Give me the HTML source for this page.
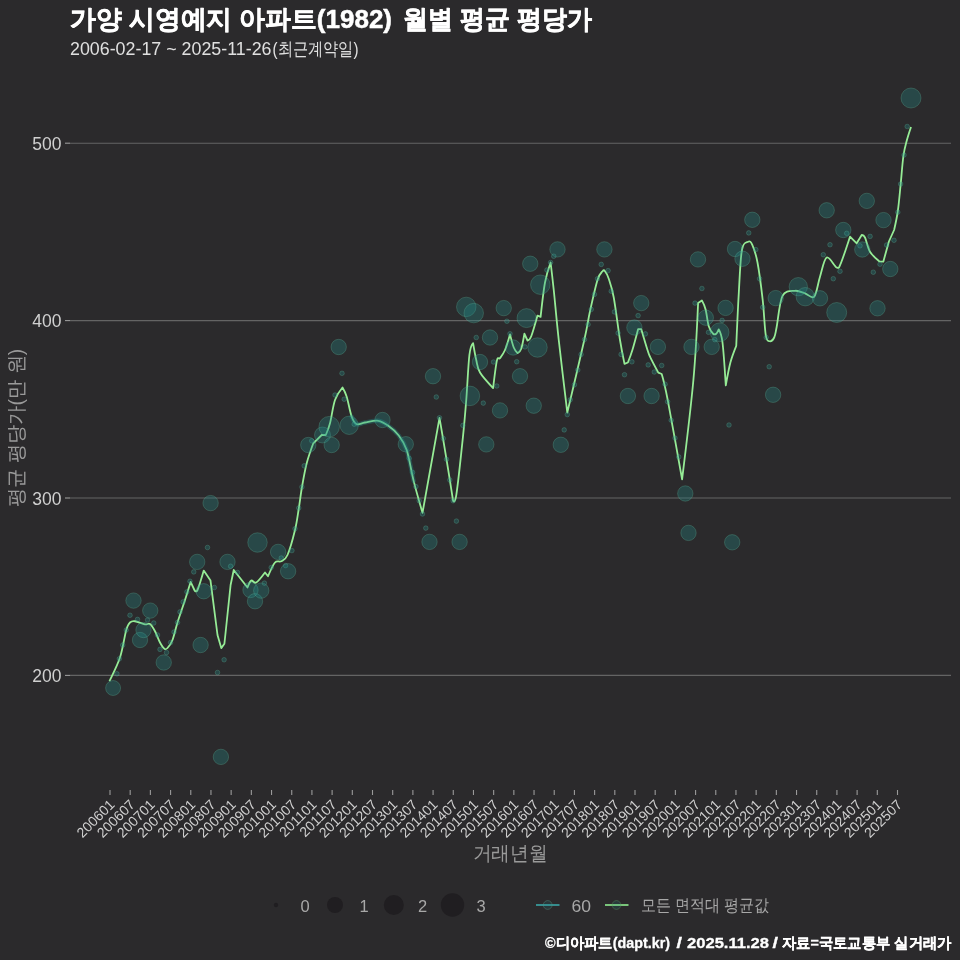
<!DOCTYPE html>
<html><head><meta charset="utf-8">
<style>
html,body{margin:0;padding:0;background:#2b2a2c;width:960px;height:960px;overflow:hidden}
svg{position:absolute;left:0;top:0;will-change:transform}
text{font-family:"Liberation Sans",sans-serif}
.ax{font-size:17.5px;fill:#d0d0d0}
.xt{font-size:14px;fill:#d0d0d0}
.ttl{font-size:26.2px;font-weight:bold;fill:#ffffff;stroke:#ffffff;stroke-width:0.5px}
.sub{font-size:18px;fill:#e0e0e0}
.axt{font-size:20px;fill:#9a9a9a}
.leg{font-size:16.5px;fill:#a8a8a8}
.ft{font-size:15px;font-weight:bold;fill:#ffffff;stroke:#ffffff;stroke-width:0.3px}
</style></head><body>
<svg width="960" height="960" viewBox="0 0 960 960">
<text x="70" y="27.8" class="ttl" textLength="322" lengthAdjust="spacingAndGlyphs">가양 시영예지 아파트(1982)</text><text x="403" y="27.8" class="ttl" textLength="189" lengthAdjust="spacingAndGlyphs">월별 평균 평당가</text>
<text x="70" y="54.5" class="sub" textLength="201.5" lengthAdjust="spacingAndGlyphs">2006-02-17 ~ 2025-11-26</text><text x="272.5" y="54.5" class="sub" textLength="86" lengthAdjust="spacingAndGlyphs">(최근계약일)</text>
<line x1="70" y1="143.2" x2="951" y2="143.2" stroke="#646464" stroke-width="1.1"/>
<line x1="65" y1="143.2" x2="70" y2="143.2" stroke="#9a9a9a" stroke-width="1.1"/>
<text x="61.5" y="149.79999999999998" text-anchor="end" class="ax">500</text>
<line x1="70" y1="320.6" x2="951" y2="320.6" stroke="#646464" stroke-width="1.1"/>
<line x1="65" y1="320.6" x2="70" y2="320.6" stroke="#9a9a9a" stroke-width="1.1"/>
<text x="61.5" y="327.20000000000005" text-anchor="end" class="ax">400</text>
<line x1="70" y1="498" x2="951" y2="498" stroke="#646464" stroke-width="1.1"/>
<line x1="65" y1="498" x2="70" y2="498" stroke="#9a9a9a" stroke-width="1.1"/>
<text x="61.5" y="504.6" text-anchor="end" class="ax">300</text>
<line x1="70" y1="675.4" x2="951" y2="675.4" stroke="#646464" stroke-width="1.1"/>
<line x1="65" y1="675.4" x2="70" y2="675.4" stroke="#9a9a9a" stroke-width="1.1"/>
<text x="61.5" y="682.0" text-anchor="end" class="ax">200</text>
<line x1="110.00" y1="790" x2="110.00" y2="795" stroke="#9a9a9a" stroke-width="1.1"/>
<text transform="translate(115.50,805.5) rotate(-45)" text-anchor="end" class="xt">200601</text>
<line x1="130.19" y1="790" x2="130.19" y2="795" stroke="#9a9a9a" stroke-width="1.1"/>
<text transform="translate(135.69,805.5) rotate(-45)" text-anchor="end" class="xt">200607</text>
<line x1="150.38" y1="790" x2="150.38" y2="795" stroke="#9a9a9a" stroke-width="1.1"/>
<text transform="translate(155.88,805.5) rotate(-45)" text-anchor="end" class="xt">200701</text>
<line x1="170.58" y1="790" x2="170.58" y2="795" stroke="#9a9a9a" stroke-width="1.1"/>
<text transform="translate(176.08,805.5) rotate(-45)" text-anchor="end" class="xt">200707</text>
<line x1="190.77" y1="790" x2="190.77" y2="795" stroke="#9a9a9a" stroke-width="1.1"/>
<text transform="translate(196.27,805.5) rotate(-45)" text-anchor="end" class="xt">200801</text>
<line x1="210.96" y1="790" x2="210.96" y2="795" stroke="#9a9a9a" stroke-width="1.1"/>
<text transform="translate(216.46,805.5) rotate(-45)" text-anchor="end" class="xt">200807</text>
<line x1="231.15" y1="790" x2="231.15" y2="795" stroke="#9a9a9a" stroke-width="1.1"/>
<text transform="translate(236.65,805.5) rotate(-45)" text-anchor="end" class="xt">200901</text>
<line x1="251.35" y1="790" x2="251.35" y2="795" stroke="#9a9a9a" stroke-width="1.1"/>
<text transform="translate(256.85,805.5) rotate(-45)" text-anchor="end" class="xt">200907</text>
<line x1="271.54" y1="790" x2="271.54" y2="795" stroke="#9a9a9a" stroke-width="1.1"/>
<text transform="translate(277.04,805.5) rotate(-45)" text-anchor="end" class="xt">201001</text>
<line x1="291.73" y1="790" x2="291.73" y2="795" stroke="#9a9a9a" stroke-width="1.1"/>
<text transform="translate(297.23,805.5) rotate(-45)" text-anchor="end" class="xt">201007</text>
<line x1="311.92" y1="790" x2="311.92" y2="795" stroke="#9a9a9a" stroke-width="1.1"/>
<text transform="translate(317.42,805.5) rotate(-45)" text-anchor="end" class="xt">201101</text>
<line x1="332.12" y1="790" x2="332.12" y2="795" stroke="#9a9a9a" stroke-width="1.1"/>
<text transform="translate(337.62,805.5) rotate(-45)" text-anchor="end" class="xt">201107</text>
<line x1="352.31" y1="790" x2="352.31" y2="795" stroke="#9a9a9a" stroke-width="1.1"/>
<text transform="translate(357.81,805.5) rotate(-45)" text-anchor="end" class="xt">201201</text>
<line x1="372.50" y1="790" x2="372.50" y2="795" stroke="#9a9a9a" stroke-width="1.1"/>
<text transform="translate(378.00,805.5) rotate(-45)" text-anchor="end" class="xt">201207</text>
<line x1="392.69" y1="790" x2="392.69" y2="795" stroke="#9a9a9a" stroke-width="1.1"/>
<text transform="translate(398.19,805.5) rotate(-45)" text-anchor="end" class="xt">201301</text>
<line x1="412.88" y1="790" x2="412.88" y2="795" stroke="#9a9a9a" stroke-width="1.1"/>
<text transform="translate(418.38,805.5) rotate(-45)" text-anchor="end" class="xt">201307</text>
<line x1="433.08" y1="790" x2="433.08" y2="795" stroke="#9a9a9a" stroke-width="1.1"/>
<text transform="translate(438.58,805.5) rotate(-45)" text-anchor="end" class="xt">201401</text>
<line x1="453.27" y1="790" x2="453.27" y2="795" stroke="#9a9a9a" stroke-width="1.1"/>
<text transform="translate(458.77,805.5) rotate(-45)" text-anchor="end" class="xt">201407</text>
<line x1="473.46" y1="790" x2="473.46" y2="795" stroke="#9a9a9a" stroke-width="1.1"/>
<text transform="translate(478.96,805.5) rotate(-45)" text-anchor="end" class="xt">201501</text>
<line x1="493.65" y1="790" x2="493.65" y2="795" stroke="#9a9a9a" stroke-width="1.1"/>
<text transform="translate(499.15,805.5) rotate(-45)" text-anchor="end" class="xt">201507</text>
<line x1="513.85" y1="790" x2="513.85" y2="795" stroke="#9a9a9a" stroke-width="1.1"/>
<text transform="translate(519.35,805.5) rotate(-45)" text-anchor="end" class="xt">201601</text>
<line x1="534.04" y1="790" x2="534.04" y2="795" stroke="#9a9a9a" stroke-width="1.1"/>
<text transform="translate(539.54,805.5) rotate(-45)" text-anchor="end" class="xt">201607</text>
<line x1="554.23" y1="790" x2="554.23" y2="795" stroke="#9a9a9a" stroke-width="1.1"/>
<text transform="translate(559.73,805.5) rotate(-45)" text-anchor="end" class="xt">201701</text>
<line x1="574.42" y1="790" x2="574.42" y2="795" stroke="#9a9a9a" stroke-width="1.1"/>
<text transform="translate(579.92,805.5) rotate(-45)" text-anchor="end" class="xt">201707</text>
<line x1="594.62" y1="790" x2="594.62" y2="795" stroke="#9a9a9a" stroke-width="1.1"/>
<text transform="translate(600.12,805.5) rotate(-45)" text-anchor="end" class="xt">201801</text>
<line x1="614.81" y1="790" x2="614.81" y2="795" stroke="#9a9a9a" stroke-width="1.1"/>
<text transform="translate(620.31,805.5) rotate(-45)" text-anchor="end" class="xt">201807</text>
<line x1="635.00" y1="790" x2="635.00" y2="795" stroke="#9a9a9a" stroke-width="1.1"/>
<text transform="translate(640.50,805.5) rotate(-45)" text-anchor="end" class="xt">201901</text>
<line x1="655.19" y1="790" x2="655.19" y2="795" stroke="#9a9a9a" stroke-width="1.1"/>
<text transform="translate(660.69,805.5) rotate(-45)" text-anchor="end" class="xt">201907</text>
<line x1="675.38" y1="790" x2="675.38" y2="795" stroke="#9a9a9a" stroke-width="1.1"/>
<text transform="translate(680.88,805.5) rotate(-45)" text-anchor="end" class="xt">202001</text>
<line x1="695.58" y1="790" x2="695.58" y2="795" stroke="#9a9a9a" stroke-width="1.1"/>
<text transform="translate(701.08,805.5) rotate(-45)" text-anchor="end" class="xt">202007</text>
<line x1="715.77" y1="790" x2="715.77" y2="795" stroke="#9a9a9a" stroke-width="1.1"/>
<text transform="translate(721.27,805.5) rotate(-45)" text-anchor="end" class="xt">202101</text>
<line x1="735.96" y1="790" x2="735.96" y2="795" stroke="#9a9a9a" stroke-width="1.1"/>
<text transform="translate(741.46,805.5) rotate(-45)" text-anchor="end" class="xt">202107</text>
<line x1="756.15" y1="790" x2="756.15" y2="795" stroke="#9a9a9a" stroke-width="1.1"/>
<text transform="translate(761.65,805.5) rotate(-45)" text-anchor="end" class="xt">202201</text>
<line x1="776.35" y1="790" x2="776.35" y2="795" stroke="#9a9a9a" stroke-width="1.1"/>
<text transform="translate(781.85,805.5) rotate(-45)" text-anchor="end" class="xt">202207</text>
<line x1="796.54" y1="790" x2="796.54" y2="795" stroke="#9a9a9a" stroke-width="1.1"/>
<text transform="translate(802.04,805.5) rotate(-45)" text-anchor="end" class="xt">202301</text>
<line x1="816.73" y1="790" x2="816.73" y2="795" stroke="#9a9a9a" stroke-width="1.1"/>
<text transform="translate(822.23,805.5) rotate(-45)" text-anchor="end" class="xt">202307</text>
<line x1="836.92" y1="790" x2="836.92" y2="795" stroke="#9a9a9a" stroke-width="1.1"/>
<text transform="translate(842.42,805.5) rotate(-45)" text-anchor="end" class="xt">202401</text>
<line x1="857.12" y1="790" x2="857.12" y2="795" stroke="#9a9a9a" stroke-width="1.1"/>
<text transform="translate(862.62,805.5) rotate(-45)" text-anchor="end" class="xt">202407</text>
<line x1="877.31" y1="790" x2="877.31" y2="795" stroke="#9a9a9a" stroke-width="1.1"/>
<text transform="translate(882.81,805.5) rotate(-45)" text-anchor="end" class="xt">202501</text>
<line x1="897.50" y1="790" x2="897.50" y2="795" stroke="#9a9a9a" stroke-width="1.1"/>
<text transform="translate(903.00,805.5) rotate(-45)" text-anchor="end" class="xt">202507</text>
<path d="M109.4,681.25 C111.17,677.29 117.19,666.04 120,657.5 C122.81,648.96 124.58,635.83 126.25,630 C127.92,624.17 128.54,623.96 130,622.5 C131.46,621.04 132.50,620.93 135,621.25 C137.50,621.57 142.50,623.94 145,624.4 C147.50,624.86 148.33,622.86 150,624 C151.67,625.14 153.33,628.17 155,631.25 C156.67,634.33 158.43,639.58 160,642.5 C161.57,645.42 163.15,647.83 164.4,648.75 C165.65,649.67 166.15,649.46 167.5,648 C168.85,646.54 170.83,644.25 172.5,640 C174.17,635.75 175.42,629.17 177.5,622.5 C179.58,615.83 182.82,606.77 185,600 C187.18,593.23 190.60,581.90 190.6,581.9 C190.60,581.90 194.40,590.00 194.4,590 C194.40,590.00 195.94,593.23 197.5,590 C199.06,586.77 203.75,570.60 203.75,570.6 C203.75,570.60 210.50,580.60 210.5,580.6 C210.50,580.60 217.50,635.00 217.5,635 C217.50,635.00 221.25,648.10 221.25,648.1 C221.25,648.10 224.40,643.75 224.4,643.75 C224.40,643.75 230.60,585.00 230.6,585 C230.60,585.00 233.75,570.00 233.75,570 C233.75,570.00 247.50,587.50 247.5,587.5 C247.50,587.50 249.79,581.43 251.25,580.6 C252.71,579.77 253.96,583.85 256.25,582.5 C258.54,581.15 265.00,572.50 265,572.5 C265.00,572.50 268.00,576.25 268,576.25 C268.00,576.25 272.79,565.00 275,562.5 C277.21,560.00 279.17,562.50 281.25,561.25 C283.33,560.00 285.21,560.21 287.5,555 C289.79,549.79 293.12,537.71 295,530 C296.88,522.29 297.60,515.83 298.75,508.75 C299.90,501.67 300.57,495.07 301.9,487.5 C303.22,479.93 304.80,470.67 306.7,463.3 C308.60,455.93 313.30,443.30 313.3,443.3 C313.30,443.30 321.70,435.00 321.7,435 C321.70,435.00 325.80,435.00 325.8,435 C325.80,435.00 328.47,429.13 330,423.3 C331.53,417.47 332.92,405.97 335,400 C337.08,394.03 342.50,387.50 342.5,387.5 C342.50,387.50 345.17,391.83 346.7,396.7 C348.23,401.57 350.03,412.12 351.7,416.7 C353.37,421.28 354.48,423.23 356.7,424.2 C358.92,425.17 361.40,423.07 365,422.5 C368.60,421.93 374.42,420.25 378.3,420.8 C382.18,421.35 384.97,423.43 388.3,425.8 C391.63,428.17 395.23,430.97 398.3,435 C401.37,439.03 404.13,442.32 406.7,450 C409.27,457.68 411.07,470.63 413.7,481.1 C416.33,491.57 422.50,512.80 422.5,512.8 C422.50,512.80 439.50,417.80 439.5,417.8 C439.50,417.80 444.23,445.47 446.5,459.3 C448.77,473.13 453.10,500.80 453.1,500.8 C453.10,500.80 454.77,504.87 456.4,494.3 C458.03,483.73 461.26,453.12 462.9,437.4 C464.54,421.68 465.17,413.73 466.25,400 C467.33,386.27 468.26,364.48 469.4,355 C470.54,345.52 473.10,343.10 473.1,343.1 C473.10,343.10 475.10,355.10 476.25,360 C477.40,364.90 477.19,367.82 480,372.5 C482.81,377.18 493.10,388.10 493.1,388.1 C493.10,388.10 495.75,365.60 496.9,360.6 C498.05,355.60 498.65,359.87 500,358.1 C501.35,356.33 503.33,353.95 505,350 C506.67,346.05 510.00,334.40 510,334.4 C510.00,334.40 512.50,344.38 513.75,347.5 C515.00,350.62 517.50,353.10 517.5,353.1 C517.50,353.10 520.10,351.98 521.25,348.75 C522.40,345.52 524.40,333.75 524.4,333.75 C524.40,333.75 527.50,340.50 527.5,340.5 C527.50,340.50 529.58,340.40 531.25,336.25 C532.92,332.10 537.50,315.60 537.5,315.6 C537.50,315.60 540.60,316.90 540.6,316.9 C540.60,316.90 543.33,291.57 545,282.5 C546.67,273.43 550.60,262.50 550.6,262.5 C550.60,262.50 552.39,277.08 553.75,290 C555.11,302.92 556.49,319.57 558.75,340 C561.01,360.43 567.30,412.60 567.3,412.6 C567.30,412.60 580.52,356.89 584.3,340 C588.08,323.11 587.80,321.25 590,311.25 C592.20,301.25 595.42,286.67 597.5,280 C599.58,273.33 601.25,272.71 602.5,271.25 C603.75,269.79 603.96,270.00 605,271.25 C606.04,272.50 607.29,274.38 608.75,278.75 C610.21,283.12 611.88,287.29 613.75,297.5 C615.62,307.71 618.21,328.93 620,340 C621.79,351.07 624.50,363.90 624.5,363.9 C624.50,363.90 627.90,362.50 627.9,362.5 C627.90,362.50 630.70,355.55 632.4,350 C634.10,344.45 638.10,329.20 638.1,329.2 C638.10,329.20 641.25,329.20 641.25,329.2 C641.25,329.20 646.01,345.35 647.5,350 C648.99,354.65 648.40,353.32 650.2,357.1 C652.00,360.88 658.30,372.70 658.3,372.7 C658.30,372.70 661.70,374.00 661.7,374 C661.70,374.00 664.40,382.83 667.8,400.4 C671.20,417.97 682.10,479.40 682.1,479.4 C682.10,479.40 690.73,409.40 693.4,380 C696.07,350.60 698.10,303.00 698.1,303 C698.10,303.00 701.90,300.40 701.9,300.4 C701.90,300.40 704.46,305.09 705.6,309.4 C706.74,313.71 707.50,322.19 708.75,326.25 C710.00,330.31 711.85,332.50 713.1,333.75 C714.35,335.00 715.31,334.48 716.25,333.75 C717.19,333.02 718.75,329.40 718.75,329.4 C718.75,329.40 721.33,333.17 722.5,342.5 C723.67,351.83 725.80,385.40 725.8,385.4 C725.80,385.40 728.66,369.10 730.4,362.5 C732.14,355.90 736.25,345.80 736.25,345.8 C736.25,345.80 737.81,309.72 738.75,293.75 C739.69,277.78 740.34,258.68 741.9,250 C743.46,241.32 746.37,242.57 748.1,241.7 C749.83,240.83 750.73,241.33 752.3,244.8 C753.87,248.27 755.77,253.30 757.5,262.5 C759.23,271.70 761.32,287.85 762.7,300 C764.08,312.15 764.65,328.52 765.8,335.4 C766.95,342.27 768.20,340.90 769.6,341.25 C771.00,341.60 773.02,339.93 774.2,337.5 C775.38,335.07 775.32,333.65 776.7,326.7 C778.08,319.75 779.45,301.78 782.5,295.8 C785.55,289.82 791.25,291.22 795,290.8 C798.75,290.38 801.80,292.32 805,293.3 C808.20,294.28 811.70,299.47 814.2,296.7 C816.70,293.93 817.92,283.23 820,276.7 C822.08,270.17 823.92,259.03 826.7,257.5 C829.48,255.97 834.35,266.53 836.7,267.5 C839.05,268.47 838.58,268.43 840.8,263.3 C843.02,258.17 850.00,236.70 850,236.7 C850.00,236.70 856.70,243.30 856.7,243.3 C856.70,243.30 861.70,235.00 861.7,235 C861.70,235.00 863.62,234.72 865,237.5 C866.38,240.28 867.63,247.73 870,251.7 C872.37,255.67 879.20,261.30 879.2,261.3 C879.20,261.30 883.30,261.70 883.3,261.7 C883.30,261.70 888.90,241.50 888.9,241.5 C888.90,241.50 894.10,230.00 894.1,230 C894.10,230.00 896.72,218.75 897.8,211.25 C898.88,203.75 899.67,194.21 900.6,185 C901.53,175.79 902.37,163.42 903.4,156 C904.43,148.58 905.53,145.35 906.8,140.5 C908.07,135.65 910.30,129.17 911,126.9" fill="none" stroke="#96ec96" stroke-width="1.8" stroke-linejoin="round" stroke-linecap="butt"/>
<g fill="rgba(33,144,140,0.3)" stroke="rgba(100,190,160,0.3)" stroke-width="0.9"><circle cx="113.1" cy="688" r="7.5"/><circle cx="116.9" cy="673.75" r="2.3"/><circle cx="119.4" cy="658.75" r="2.3"/><circle cx="122.75" cy="645" r="2.3"/><circle cx="126.25" cy="630" r="2.3"/><circle cx="130" cy="615.25" r="2.3"/><circle cx="133.5" cy="600.6" r="7.7"/><circle cx="137.5" cy="619.4" r="2.3"/><circle cx="140" cy="640" r="7.7"/><circle cx="143.5" cy="630" r="7.7"/><circle cx="147.5" cy="620" r="2.3"/><circle cx="150.25" cy="610.6" r="7.7"/><circle cx="153.75" cy="623" r="2.3"/><circle cx="157.5" cy="635" r="2.3"/><circle cx="160" cy="649.4" r="2.3"/><circle cx="163.75" cy="662.5" r="7.7"/><circle cx="166.5" cy="652.5" r="2.3"/><circle cx="170.6" cy="642.5" r="2.3"/><circle cx="174" cy="632" r="2.3"/><circle cx="177.5" cy="622.5" r="2.3"/><circle cx="180" cy="611.9" r="2.3"/><circle cx="183.1" cy="601.9" r="2.3"/><circle cx="186.9" cy="591.9" r="2.3"/><circle cx="190" cy="581.25" r="2.3"/><circle cx="193.75" cy="571.9" r="2.3"/><circle cx="200.6" cy="645" r="7.7"/><circle cx="203.75" cy="591.25" r="7.7"/><circle cx="197.2" cy="561.9" r="7.7"/><circle cx="210.6" cy="503.1" r="7.7"/><circle cx="207.5" cy="547.5" r="2.3"/><circle cx="214.4" cy="587.5" r="2.3"/><circle cx="217.5" cy="672.5" r="2.3"/><circle cx="224.1" cy="659.75" r="2.3"/><circle cx="220.9" cy="756.9" r="7.7"/><circle cx="227.5" cy="561.9" r="7.7"/><circle cx="230.6" cy="566.25" r="2.3"/><circle cx="237.5" cy="572.5" r="2.3"/><circle cx="250.5" cy="590" r="7.7"/><circle cx="255" cy="601.25" r="7.7"/><circle cx="257.5" cy="542.5" r="9.75"/><circle cx="261.25" cy="590.6" r="7.7"/><circle cx="264.4" cy="583.1" r="2.3"/><circle cx="271.25" cy="567.5" r="2.3"/><circle cx="278.1" cy="551.9" r="7.7"/><circle cx="281.25" cy="558" r="2.3"/><circle cx="285.6" cy="565.6" r="2.3"/><circle cx="288.1" cy="571.25" r="7.7"/><circle cx="291.9" cy="550.6" r="2.3"/><circle cx="295" cy="528.75" r="2.3"/><circle cx="298.75" cy="508" r="2.3"/><circle cx="301.9" cy="487" r="2.3"/><circle cx="304.2" cy="465.8" r="2.3"/><circle cx="311.7" cy="440.8" r="2.3"/><circle cx="308.3" cy="445" r="7.7"/><circle cx="322.5" cy="435" r="8"/><circle cx="329.2" cy="426.7" r="10.3"/><circle cx="331.7" cy="445" r="7.7"/><circle cx="335" cy="395" r="2.3"/><circle cx="338.7" cy="347" r="7.7"/><circle cx="342" cy="373.3" r="2.3"/><circle cx="344.2" cy="399.2" r="2.3"/><circle cx="349.2" cy="425.3" r="9.2"/><circle cx="354.2" cy="424.2" r="2.3"/><circle cx="382.5" cy="420" r="7.7"/><circle cx="405.8" cy="444.2" r="7.7"/><circle cx="409.2" cy="458.3" r="2.3"/><circle cx="412.6" cy="472.4" r="2.3"/><circle cx="415.9" cy="486.6" r="2.3"/><circle cx="419.2" cy="500.8" r="2.3"/><circle cx="422.5" cy="514" r="2.3"/><circle cx="425.8" cy="528.1" r="2.3"/><circle cx="429.5" cy="541.9" r="7.7"/><circle cx="433" cy="376.2" r="7.7"/><circle cx="436.3" cy="397" r="2.3"/><circle cx="439.5" cy="417.8" r="2.3"/><circle cx="443.3" cy="438.5" r="2.3"/><circle cx="446.5" cy="459.3" r="2.3"/><circle cx="449.8" cy="480" r="2.3"/><circle cx="453.1" cy="500.8" r="2.3"/><circle cx="456.4" cy="521.1" r="2.3"/><circle cx="459.6" cy="541.9" r="7.7"/><circle cx="462.9" cy="425.4" r="2.3"/><circle cx="469.9" cy="395.9" r="9.8"/><circle cx="480" cy="362" r="7.7"/><circle cx="483.3" cy="403.1" r="2.3"/><circle cx="486.3" cy="444.4" r="7.7"/><circle cx="493.5" cy="362" r="2.3"/><circle cx="496.8" cy="386" r="2.3"/><circle cx="500" cy="410.4" r="7.7"/><circle cx="516.7" cy="361.7" r="2.3"/><circle cx="520" cy="376.2" r="7.7"/><circle cx="533.75" cy="405.7" r="7.7"/><circle cx="466.25" cy="306.9" r="9.75"/><circle cx="473.75" cy="313.1" r="9.75"/><circle cx="503.75" cy="308.1" r="7.7"/><circle cx="506.9" cy="321.25" r="2.3"/><circle cx="526.5" cy="318.1" r="9.5"/><circle cx="540.3" cy="284.7" r="9.75"/><circle cx="476.25" cy="337.5" r="2.3"/><circle cx="490" cy="337.5" r="7.7"/><circle cx="510" cy="333.75" r="2.3"/><circle cx="513.1" cy="347.5" r="7.7"/><circle cx="525" cy="346.9" r="2.3"/><circle cx="537.5" cy="347.5" r="9.75"/><circle cx="557.5" cy="249.4" r="7.7"/><circle cx="553.75" cy="256.25" r="2.3"/><circle cx="550.6" cy="262.5" r="2.3"/><circle cx="546.9" cy="270" r="2.3"/><circle cx="530.25" cy="263.75" r="7.7"/><circle cx="604.4" cy="249.4" r="7.7"/><circle cx="601.25" cy="264.4" r="2.3"/><circle cx="608.1" cy="270.6" r="2.3"/><circle cx="597.5" cy="278.75" r="2.3"/><circle cx="594.4" cy="294.4" r="2.3"/><circle cx="591.25" cy="309.4" r="2.3"/><circle cx="588.1" cy="324.4" r="2.3"/><circle cx="611.25" cy="291.25" r="2.3"/><circle cx="614.4" cy="311.9" r="2.3"/><circle cx="618.1" cy="333.1" r="2.3"/><circle cx="641.25" cy="303.1" r="7.7"/><circle cx="638.1" cy="315.6" r="2.3"/><circle cx="634.4" cy="327.5" r="7.7"/><circle cx="645.4" cy="333.9" r="2.3"/><circle cx="657.9" cy="346.9" r="7.7"/><circle cx="691.5" cy="346.9" r="7.7"/><circle cx="698" cy="259.4" r="7.7"/><circle cx="695" cy="303.1" r="2.3"/><circle cx="567.3" cy="414.6" r="2.3"/><circle cx="570.3" cy="399.7" r="2.3"/><circle cx="574.4" cy="384.8" r="2.3"/><circle cx="577.8" cy="370" r="2.3"/><circle cx="581.1" cy="354.4" r="2.3"/><circle cx="584.5" cy="339.5" r="2.3"/><circle cx="564.2" cy="429.9" r="2.3"/><circle cx="560.8" cy="444.8" r="7.7"/><circle cx="621.1" cy="354.4" r="2.3"/><circle cx="631.9" cy="361.8" r="2.3"/><circle cx="624.5" cy="374.7" r="2.3"/><circle cx="627.9" cy="396" r="7.7"/><circle cx="651.6" cy="396" r="7.7"/><circle cx="648.2" cy="364.9" r="2.3"/><circle cx="661.7" cy="365.5" r="2.3"/><circle cx="654.3" cy="372" r="2.3"/><circle cx="665.1" cy="384.2" r="2.3"/><circle cx="667.6" cy="401.7" r="2.3"/><circle cx="671.25" cy="420.3" r="2.3"/><circle cx="675" cy="438.1" r="2.3"/><circle cx="678.75" cy="456.9" r="2.3"/><circle cx="685.3" cy="493.5" r="7.7"/><circle cx="688.5" cy="532.9" r="7.7"/><circle cx="732.2" cy="542.3" r="7.7"/><circle cx="729" cy="425" r="2.3"/><circle cx="701.9" cy="288.5" r="2.3"/><circle cx="705.8" cy="317.7" r="7.7"/><circle cx="711.7" cy="346.9" r="7.7"/><circle cx="719.6" cy="332.3" r="9.4"/><circle cx="725.6" cy="307.9" r="7.7"/><circle cx="722.1" cy="320.4" r="2.3"/><circle cx="708.5" cy="332.3" r="2.3"/><circle cx="714.8" cy="339.6" r="2.3"/><circle cx="752.3" cy="219.8" r="7.7"/><circle cx="748.75" cy="232.9" r="2.3"/><circle cx="735" cy="249" r="7.7"/><circle cx="742.5" cy="258.75" r="7.7"/><circle cx="755.8" cy="249.6" r="2.3"/><circle cx="759.6" cy="278.75" r="2.3"/><circle cx="762.7" cy="307.3" r="2.3"/><circle cx="766.25" cy="337.5" r="2.3"/><circle cx="775.7" cy="298.1" r="7.7"/><circle cx="769.2" cy="366.7" r="2.3"/><circle cx="773.1" cy="394.8" r="7.7"/><circle cx="798.3" cy="286.7" r="9.2"/><circle cx="805.3" cy="296.7" r="9.2"/><circle cx="820" cy="298.3" r="7.7"/><circle cx="836.7" cy="312.5" r="10"/><circle cx="823.3" cy="254.7" r="2.3"/><circle cx="830" cy="244.7" r="2.3"/><circle cx="826.7" cy="210.3" r="7.7"/><circle cx="840" cy="271.3" r="2.3"/><circle cx="833.3" cy="278.7" r="2.3"/><circle cx="843.3" cy="230" r="7.7"/><circle cx="846.7" cy="233.3" r="2.3"/><circle cx="862.3" cy="249.5" r="7.7"/><circle cx="860" cy="245.8" r="2.3"/><circle cx="866.8" cy="200.9" r="7.7"/><circle cx="870.1" cy="236.4" r="2.3"/><circle cx="883.5" cy="220.1" r="7.7"/><circle cx="873.3" cy="272.2" r="2.3"/><circle cx="880" cy="264.2" r="2.3"/><circle cx="877.5" cy="308.3" r="7.7"/><circle cx="890.3" cy="269" r="7.7"/><circle cx="886.6" cy="245" r="2.3"/><circle cx="894" cy="240.3" r="2.3"/><circle cx="897.8" cy="212.2" r="2.3"/><circle cx="900.6" cy="184" r="2.3"/><circle cx="904" cy="155" r="2.3"/><circle cx="907.2" cy="126.5" r="2.3"/><circle cx="911" cy="98" r="10"/></g>
<path d="M351.7,416.7 C352.53,417.95 354.48,423.23 356.7,424.2 C358.92,425.17 361.40,423.07 365,422.5 C368.60,421.93 374.42,420.25 378.3,420.8 C382.18,421.35 384.97,423.43 388.3,425.8 C391.63,428.17 395.23,430.97 398.3,435 C401.37,439.03 404.13,442.32 406.7,450 C409.27,457.68 412.53,475.92 413.7,481.1" fill="none" stroke="rgba(33,144,140,0.35)" stroke-width="4.5" stroke-linecap="round"/>
<text x="510" y="860" text-anchor="middle" class="axt" textLength="75" lengthAdjust="spacingAndGlyphs">거래년월</text>
<text transform="translate(23,428) rotate(-90)" text-anchor="middle" class="axt" textLength="158.5" lengthAdjust="spacingAndGlyphs">평균 평당가(만 원)</text>
<g fill="#201e21">
<circle cx="276" cy="905" r="2.2"/><circle cx="335" cy="905" r="8"/><circle cx="393.8" cy="905" r="10"/><circle cx="452.5" cy="905" r="11.7"/>
</g>
<text x="305" y="912" text-anchor="middle" class="leg">0</text>
<text x="364" y="912" text-anchor="middle" class="leg">1</text>
<text x="422.5" y="912" text-anchor="middle" class="leg">2</text>
<text x="481" y="912" text-anchor="middle" class="leg">3</text>
<line x1="536" y1="905" x2="559.5" y2="905" stroke="#3aa8a8" stroke-width="1.6"/>
<circle cx="547.7" cy="905" r="4.4" fill="rgba(33,144,140,0.15)" stroke="rgba(90,150,130,0.45)" stroke-width="0.9"/>
<text x="571.5" y="912" class="leg" textLength="19.5" lengthAdjust="spacingAndGlyphs">60</text>
<line x1="605" y1="905" x2="628.5" y2="905" stroke="#90ee90" stroke-width="1.6"/>
<circle cx="616.5" cy="905" r="4.4" fill="rgba(33,144,140,0.15)" stroke="rgba(90,150,100,0.45)" stroke-width="0.9"/>
<text x="641" y="911" class="leg" textLength="128" lengthAdjust="spacingAndGlyphs">모든 면적대 평균값</text>
<text x="545" y="948" class="ft" textLength="125" lengthAdjust="spacingAndGlyphs">©디아파트(dapt.kr)</text><text x="676.5" y="948" class="ft" textLength="5.5" lengthAdjust="spacingAndGlyphs">/</text><text x="687" y="948" class="ft" textLength="82" lengthAdjust="spacingAndGlyphs">2025.11.28</text><text x="772.5" y="948" class="ft" textLength="5.5" lengthAdjust="spacingAndGlyphs">/</text><text x="782" y="948" class="ft" textLength="169.5" lengthAdjust="spacingAndGlyphs">자료=국토교통부 실거래가</text>
</svg>
</body></html>
